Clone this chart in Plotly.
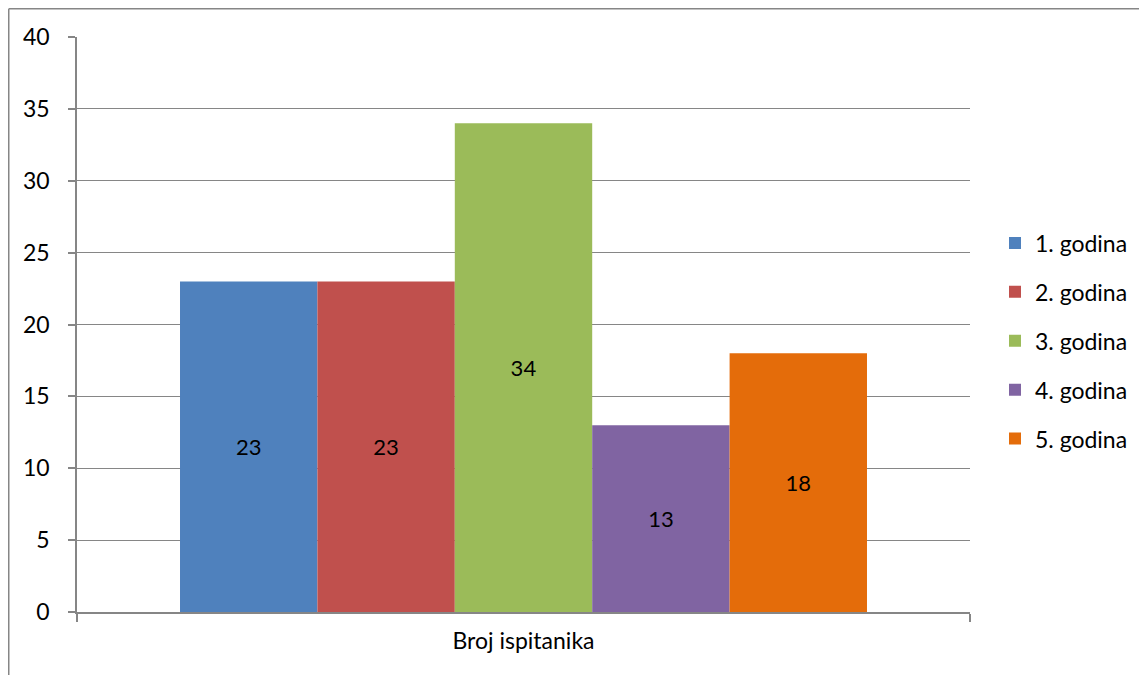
import plotly.graph_objects as go

category = ["Broj ispitanika"]
series_names = ["1. godina", "2. godina", "3. godina", "4. godina", "5. godina"]
series_values = [23, 23, 34, 13, 18]
colors = ["#4F81BD", "#C0504D", "#9BBB59", "#8064A2", "#E46C0A"]
y_ticks = [0, 5, 10, 15, 20, 25, 30, 35, 40]

FONT = "Lato"
GRID = "#868686"

fig = go.Figure()
for i, (name, val, col) in enumerate(zip(series_names, series_values, colors)):
    fig.add_trace(go.Bar(
        x=category, y=[val], name=name, marker=dict(color=col, line=dict(width=0)),
        text=[str(val)], textposition="inside", insidetextanchor="middle",
        textfont=dict(family=FONT, size=22, color="black"),
        legendgroup=f"g{i}",
    ))

# page has an 8px body margin; figure coords = screen coords - 8
OFF = 8
W, H = 1147, 675
L, R, T, B = 77 - OFF, 970 - OFF, 37 - OFF, 612 - OFF
PW, PH = R - L, B - T
fig.update_layout(
    width=W, height=H,
    margin=dict(l=L, r=W - R, t=T, b=H - B, pad=0),
    paper_bgcolor="white", plot_bgcolor="white",
    barmode="group", bargap=0.2307, bargroupgap=0,
    font=dict(family=FONT, size=22, color="black"),
    legend=dict(
        x=(995 - OFF - L) / PW, y=(B - (341 - OFF)) / PH, xanchor="left", yanchor="middle",
        font=dict(family=FONT, size=23, color="black"),
        tracegroupgap=16, itemwidth=30, bgcolor="rgba(0,0,0,0)",
    ),
    showlegend=True,
    xaxis=dict(
        showline=True, linecolor=GRID, linewidth=1.5,
        ticks="outside", ticklen=8, tickcolor=GRID, tickwidth=1.5,
        tickson="boundaries", showgrid=False, ticklabelstandoff=8,
        tickfont=dict(family=FONT, size=23),
    ),
    yaxis=dict(
        range=[0, 40], tickvals=y_ticks, ticktext=[str(t) for t in y_ticks],
        showline=True, linecolor=GRID, linewidth=1.5,
        ticks="outside", ticklen=7, tickcolor=GRID, tickwidth=1.5,
        showgrid=True, gridcolor=GRID, gridwidth=1.2, zeroline=False,
        ticklabelstandoff=14, tickfont=dict(family=FONT, size=23),
    ),
    shapes=[
        dict(type="line", xref="paper", yref="paper",
             x0=(0.75 - L) / PW, x1=(W - L) / PW,
             y0=(B - 0.75) / PH, y1=(B - 0.75) / PH,
             line=dict(color=GRID, width=1.5)),
        dict(type="line", xref="paper", yref="paper",
             x0=(0.75 - L) / PW, x1=(0.75 - L) / PW,
             y0=(B - 0.75) / PH, y1=(B - H) / PH,
             line=dict(color=GRID, width=1.5)),
    ],
)

fig.write_html("out.html")
